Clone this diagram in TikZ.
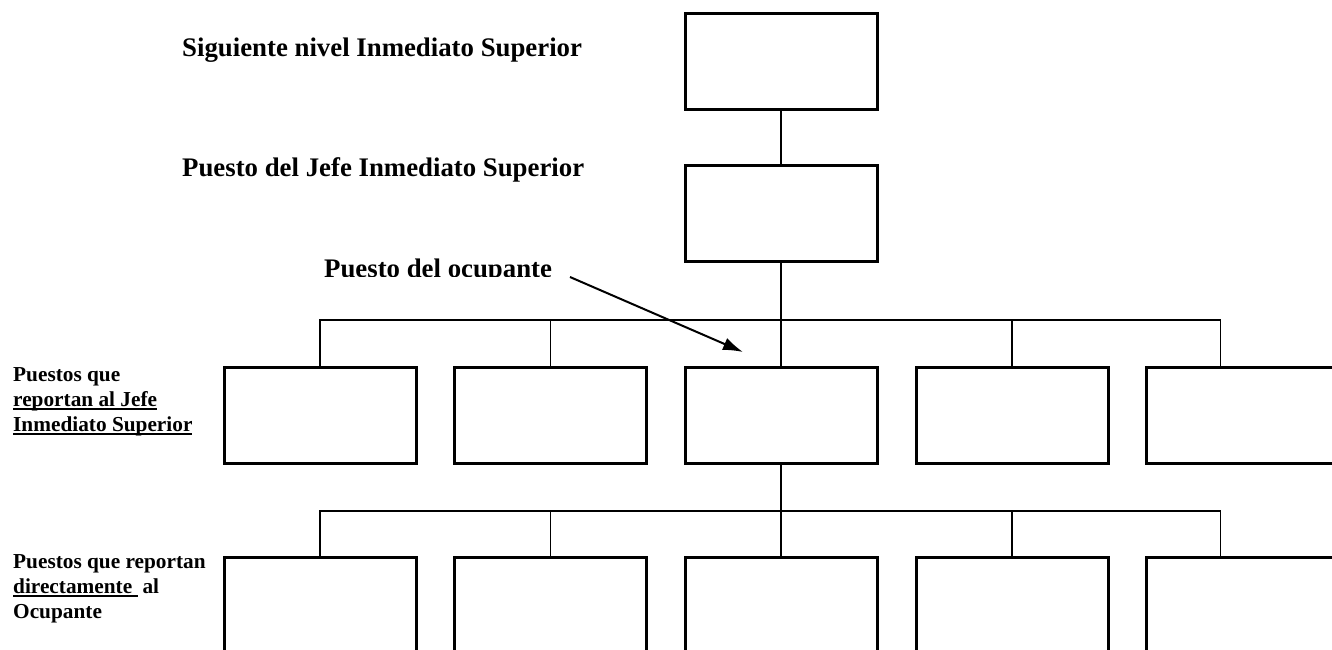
\documentclass[tikz,border=0pt]{standalone}
\usepackage{fontspec}
\setmainfont{Liberation Serif}
\usetikzlibrary{arrows.meta}
\newcommand\myul[1]{\setbox0\hbox{#1}\rlap{\rule[-3.5pt]{\wd0}{1.8pt}}\box0}
\begin{document}
\begin{tikzpicture}[x=1pt,y=-1pt,
  box/.style={draw,line width=3pt,minimum width=192pt,minimum height=96pt,inner sep=0pt},
  lowbox/.style={box,minimum height=192pt},
  conn/.style={line width=1.8pt},
  head/.style={font=\fontsize{26.8}{30}\selectfont\bfseries,anchor=base west,inner sep=0pt},
  side/.style={font=\fontsize{21.3}{25}\selectfont\bfseries,align=left,anchor=base west,inner sep=0pt},
  pointer/.style={line width=2pt,-{Latex[length=20pt,width=13pt]}}]
\clip (0,0) rectangle (1332,649);
\fill[white] (0,0) rectangle (1332,649);
% headings
\node[head] (h1) at (182,56) {Siguiente nivel Inmediato Superior};
\node[head] (h2) at (182,176) {Puesto del Jefe Inmediato Superior};
\begin{scope}
\clip (300,240) rectangle (600,276);
\node[head] (h3) at (324,277) {Puesto del ocupante};
\end{scope}
\node[side] (s1) at (13,431.7) {Puestos que\\\myul{reportan al Jefe}\\\myul{Inmediato Superior}};
\node[side] (s2) at (13,618.3) {Puestos que reportan\\\myul{directamente\ }\hspace{5pt}al\\Ocupante};
% boxes
\node[box] (top) at (781,61) {};
\node[box] (jefe) at (781,213) {};
\node[box] (ra) at (320,415) {};
\node[box] (rb) at (550.5,415) {};
\node[box] (rc) at (781,415) {};
\node[box] (rd) at (1012,415) {};
\node[box] (re) at (1242,415) {};
\node[lowbox] (la) at (320,653) {};
\node[lowbox] (lb) at (550.5,653) {};
\node[lowbox] (lc) at (781,653) {};
\node[lowbox] (ld) at (1012,653) {};
\node[lowbox] (le) at (1242,653) {};
% connectors
\coordinate (bus1) at (781,320);
\coordinate (bus2) at (781,510.7);
\coordinate (dre) at ([xshift=76pt]re.north west);
\coordinate (dle) at ([xshift=76pt]le.north west);
\draw[conn] (top.south) -- (jefe.north);
\draw[conn] (jefe.south) -- (rc.north);
\draw[conn] (ra.north) -- (ra.north |- bus1) -- (dre |- bus1) -- (dre);
\draw[conn] (rb.north) -- (rb.north |- bus1);
\draw[conn] (rd.north) -- (rd.north |- bus1);
\draw[conn] (rc.south) -- (bus2);
\draw[conn] (la.north) -- (la.north |- bus2) -- (dle |- bus2) -- (dle);
\draw[conn] (lb.north) -- (lb.north |- bus2);
\draw[conn] (lc.north) -- (bus2);
\draw[conn] (ld.north) -- (ld.north |- bus2);
% arrow
\coordinate (astart) at (570,277);
\coordinate (aend) at (743,352);
\draw[pointer] (astart) -- (aend);
\end{tikzpicture}
\end{document}
